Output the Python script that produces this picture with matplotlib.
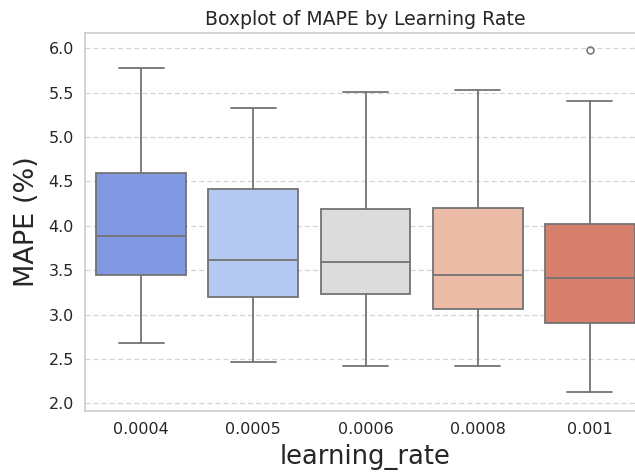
import matplotlib
matplotlib.use("Agg")
import matplotlib.pyplot as plt
import seaborn as sns

# Summary statistics of MAPE (%) for each learning rate
learning_rates = ["0.0004", "0.0005", "0.0006", "0.0008", "0.001"]
q1_vals = [3.45, 3.20, 3.23, 3.06, 2.90]
median_vals = [3.88, 3.62, 3.59, 3.45, 3.41]
q3_vals = [4.59, 4.41, 4.19, 4.20, 4.02]
whisker_low = [2.68, 2.47, 2.42, 2.42, 2.13]
whisker_high = [5.78, 5.33, 5.51, 5.53, 5.40]
outliers = [[], [], [], [], [5.98]]

sns.set_theme(style="whitegrid")
plt.rcParams["font.family"] = ["DejaVu Sans"]

stats = []
for i, lab in enumerate(learning_rates):
    stats.append(dict(label=lab, q1=q1_vals[i], med=median_vals[i], q3=q3_vals[i],
                      whislo=whisker_low[i], whishi=whisker_high[i], fliers=outliers[i]))

colors = [sns.desaturate(c, 0.75) for c in sns.color_palette("coolwarm", len(learning_rates))]
edge = "#737373"

fig = plt.figure(figsize=(6.35, 4.75), dpi=100)
ax = fig.add_axes([85 / 635, 1 - 411 / 475, (646 - 85) / 635, (411 - 33) / 475])

bp = ax.bxp(stats, positions=range(len(stats)), widths=0.8, patch_artist=True,
            boxprops=dict(edgecolor=edge, linewidth=1.3),
            medianprops=dict(color=edge, linewidth=1.3),
            whiskerprops=dict(color=edge, linewidth=1.3),
            capprops=dict(color=edge, linewidth=1.3),
            flierprops=dict(marker="o", markerfacecolor="none", markeredgecolor=edge,
                            markersize=5, markeredgewidth=1.1))
for patch, c in zip(bp["boxes"], colors):
    patch.set_facecolor(c)
for cap in bp["caps"]:
    x = cap.get_xdata()
    mid = (x[0] + x[1]) / 2
    cap.set_xdata([mid - 0.2, mid + 0.2])

ax.set_xlim(-0.5, len(stats) - 0.5)
ax.set_ylim(1.915, 6.17)
ax.set_yticks([2.0, 2.5, 3.0, 3.5, 4.0, 4.5, 5.0, 5.5, 6.0])
ax.set_xticks(range(len(stats)))
ax.set_xticklabels(learning_rates)
ax.grid(False, axis="x")
ax.grid(True, axis="y", linestyle=(0, (4, 2.5)), color="#d4d4d4", linewidth=0.9)
ax.set_axisbelow(True)
for s in ax.spines.values():
    s.set_color("#cccccc")
    s.set_linewidth(1.2)
ax.tick_params(axis="y", length=0, labelsize=11.5, colors="#262626", pad=8)
ax.tick_params(axis="x", length=0, labelsize=11.5, colors="#262626", pad=8)

ax.set_title("Boxplot of MAPE by Learning Rate", fontsize=13.6, color="#262626", pad=6)
ax.set_xlabel("learning_rate", fontsize=18.5, color="#262626", labelpad=5)
ax.set_ylabel("MAPE (%)", fontsize=19.5, color="#262626", labelpad=6)

fig.savefig("out.png", dpi=100)
